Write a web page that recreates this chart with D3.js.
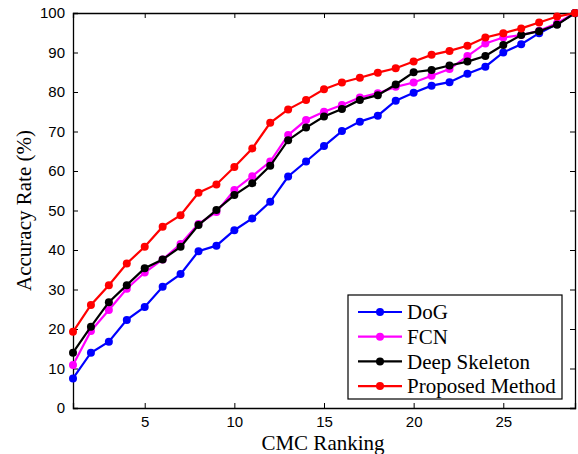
<!DOCTYPE html>
<html>
<head>
<meta charset="utf-8">
<script src="https://cdn.jsdelivr.net/npm/d3@7"></script>
<style>
  body { margin: 0; background: #fff; }
  svg { display: block; }
  .tick text { font-family: 'Liberation Sans', Arial, sans-serif; font-size: 15px; fill: #000; }
  .lbl { font-family: 'Liberation Serif', 'Times New Roman', serif; fill: #000; }
</style>
</head>
<body>
<svg id="chart" width="578" height="454"></svg>
<script>
const ranks = d3.range(1, 30)
const dog = [7.5, 14, 16.8, 22.3, 25.6, 30.7, 33.9, 39.7, 41.1, 45, 48, 52.2, 58.6, 62.4, 66.3, 70.1, 72.5, 74, 77.8, 79.8, 81.6, 82.5, 84.6, 86.4, 90, 92.1, 94.9, 97.2, 100]
const fcn = [10.9, 19.5, 24.8, 30.2, 34.3, 37.6, 41.5, 46.6, 49.6, 55.2, 58.7, 62.4, 69.1, 72.9, 75, 76.7, 78.6, 79.7, 81.3, 82.4, 84.1, 85.8, 89.1, 92.3, 93.8, 94.4, 95.5, 97.4, 100]
const deep = [14, 20.6, 26.8, 31.1, 35.4, 37.6, 40.8, 46.3, 50.1, 53.9, 56.9, 61.3, 67.8, 71, 73.8, 75.7, 78, 79.2, 81.9, 85, 85.6, 86.7, 87.7, 89.1, 91.9, 94.4, 95.4, 97, 100]
const proposed = [19.3, 26.1, 31.1, 36.6, 40.8, 45.9, 48.8, 54.5, 56.6, 61, 65.7, 72.2, 75.6, 78, 80.7, 82.4, 83.6, 84.9, 86, 87.7, 89.4, 90.4, 91.7, 93.8, 94.9, 96.1, 97.6, 99.1, 100]
const seriesNames = ['DoG', 'FCN', 'Deep Skeleton', 'Proposed Method']
const seriesColors = ['#0000ff', '#ff00ff', '#000000', '#ff0000']
const xTicks = [5, 10, 15, 20, 25]
const yTicks = d3.range(0, 101, 10)

const series = [dog, fcn, deep, proposed].map((vals, i) => ({
  name: seriesNames[i],
  color: seriesColors[i],
  points: vals.map((v, j) => [ranks[j], v])
}))

const m = { left: 73, right: 575, top: 13, bottom: 408 }

const svg = d3.select('#chart')
const x = d3.scaleLinear().domain([1, 29]).range([m.left, m.right])
const y = d3.scaleLinear().domain([0, 100]).range([m.bottom, m.top])

// axes, matlab style: ticks inside, box all round
svg.append('g')
  .attr('transform', `translate(0,${m.bottom})`)
  .call(d3.axisBottom(x).tickValues(xTicks).tickSize(-5).tickPadding(8))
svg.append('g')
  .attr('transform', `translate(0,${m.top})`)
  .call(d3.axisTop(x).tickValues(xTicks).tickSize(-5).tickFormat(''))
svg.append('g')
  .attr('transform', `translate(${m.left},0)`)
  .call(d3.axisLeft(y).tickValues(yTicks).tickSize(-5).tickPadding(8))
svg.append('g')
  .attr('transform', `translate(${m.right},0)`)
  .call(d3.axisRight(y).tickValues(yTicks).tickSize(-5).tickFormat(''))
svg.selectAll('.domain').attr('stroke', '#000').attr('stroke-width', 1.3)
svg.selectAll('.tick line').attr('stroke', '#000')

const line = d3.line().x(d => x(d[0])).y(d => y(d[1]))

const g = svg.selectAll('g.series')
  .data(series)
  .enter().append('g')
  .classed('series', true)

g.append('path')
  .attr('d', d => line(d.points))
  .attr('fill', 'none')
  .attr('stroke', d => d.color)
  .attr('stroke-width', 2.2)

g.selectAll('circle')
  .data(d => d.points.map(p => ({ p, color: d.color })))
  .enter().append('circle')
  .attr('cx', d => x(d.p[0]))
  .attr('cy', d => y(d.p[1]))
  .attr('r', 4)
  .attr('fill', d => d.color)

// labels
svg.append('text')
  .classed('lbl', true)
  .attr('x', 323)
  .attr('y', 450)
  .attr('text-anchor', 'middle')
  .style('font-size', '21px')
  .text('CMC Ranking')

svg.append('text')
  .classed('lbl', true)
  .attr('transform', `translate(31,${(m.top + m.bottom) / 2}) rotate(-90)`)
  .attr('text-anchor', 'middle')
  .style('font-size', '21px')
  .text('Accuracy Rate (%)')

// legend
const legend = svg.append('g').attr('transform', 'translate(348,295)')
legend.append('rect')
  .attr('width', 214)
  .attr('height', 104)
  .attr('fill', '#fff')
  .attr('stroke', '#000')
  .attr('stroke-width', 1.2)

const item = legend.selectAll('g.item')
  .data(series)
  .enter().append('g')
  .classed('item', true)
  .attr('transform', (d, i) => `translate(0,${17 + i * 24.7})`)
item.append('line')
  .attr('x1', 10).attr('x2', 54)
  .attr('stroke', d => d.color)
  .attr('stroke-width', 2.2)
item.append('circle')
  .attr('cx', 32)
  .attr('r', 4)
  .attr('fill', d => d.color)
item.append('text')
  .classed('lbl', true)
  .attr('x', 59)
  .attr('dy', '0.35em')
  .style('font-size', '21px')
  .text(d => d.name)
</script>
</body>
</html>
